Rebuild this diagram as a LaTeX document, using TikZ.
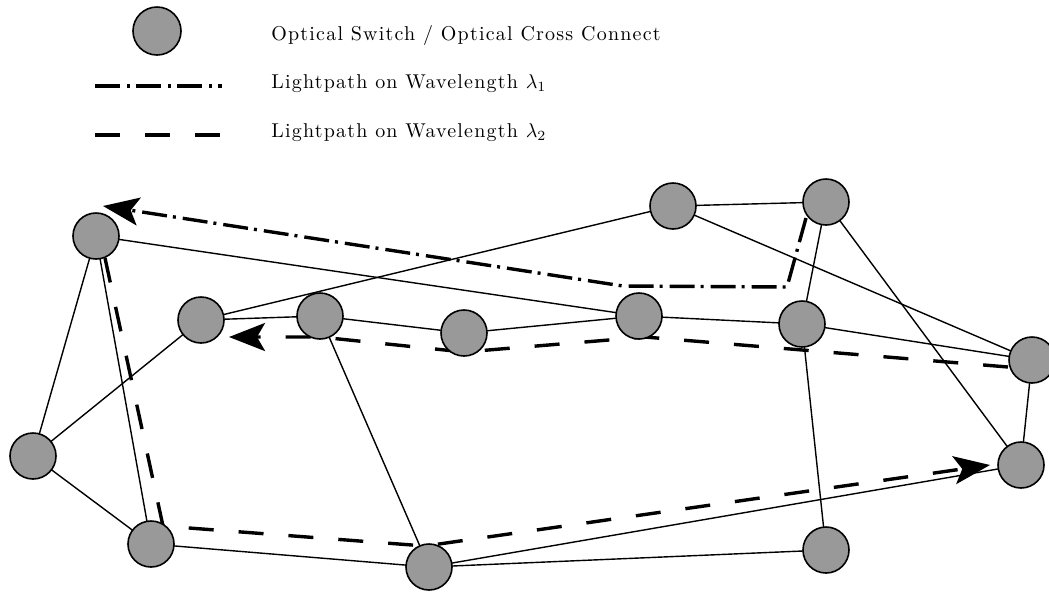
\documentclass[tikz,border=0pt]{standalone}
\usepackage{amsmath,amssymb}
\usepackage{fontspec}
\usepackage{tikz}
\usetikzlibrary{positioning,arrows.meta,backgrounds}
\newfontfamily\legendfont{Latin Modern Roman}[LetterSpace=6.0]
\tikzset{switch/.style={circle,draw,line width=.8pt,fill=black!40,minimum size=23pt,inner sep=0pt},
  link/.style={line width=.7pt},
  lambdaone/.style={line width=1.7pt,dash pattern=on 12.5pt off 3.5pt on 1.5pt off 3pt},
  lambdatwo/.style={line width=1.7pt,dash pattern=on 12.5pt off 12.5pt},
  tip/.style={-{Stealth[length=18pt,width=14pt,inset=4pt]}},
  legend/.style={anchor=base west,inner sep=0pt,font=\legendfont}}

\begin{document}
\begin{tikzpicture}[x=.5pt,y=-.5pt]
\useasboundingbox (0,0) rectangle (1049,591);
% legend
\node[switch,minimum width=24pt,minimum height=24pt] (key) at (157,31) {};
\node[legend] (keytext) at (271,40) {Optical Switch / Optical Cross Connect};
\coordinate (oneL) at (95,86); \coordinate (oneR) at (222,86);
\draw[lambdaone] (oneL) -- (oneR);
\node[legend] (onetext) at (271,88) {Lightpath on Wavelength $\lambda_1$};
\coordinate (twoL) at (95,135); \coordinate (twoR) at (222,135);
\draw[lambdatwo] (twoL) -- (twoR);
\node[legend] (twotext) at (271,137.5) {Lightpath on Wavelength $\lambda_2$};
% switches
\node[switch] (a) at (96,236) {}; \node[switch] (b) at (673,206) {};
\node[switch] (c) at (826,202) {}; \node[switch] (d) at (201,320) {};
\node[switch] (e) at (320,316) {}; \node[switch] (f) at (464,333) {};
\node[switch] (g) at (639,316) {}; \node[switch] (h) at (802,324) {};
\node[switch] (i) at (1032,360) {}; \node[switch] (j) at (33,456) {};
\node[switch] (k) at (1021,465) {}; \node[switch] (l) at (151,544) {};
\node[switch] (m) at (429,567) {}; \node[switch] (n) at (826,550) {};
% bends of the lightpaths
\coordinate (c1) at (806,218); \coordinate (c2) at (787,287);
\coordinate (c3) at (623,286); \coordinate (c4) at (103,206);
\coordinate (i1) at (1008,367); \coordinate (i2) at (645,337);
\coordinate (i3) at (464,352); \coordinate (i4) at (320,337);
\coordinate (i5) at (229,337);
\coordinate (a1) at (105,258); \coordinate (a2) at (163,526);
\coordinate (a3) at (425,546); \coordinate (a4) at (990,465);
\begin{scope}[on background layer]
\foreach \u/\v in {a/g,a/j,a/l,d/b,d/j,d/e,e/f,f/g,g/h,b/c,b/i,c/k,c/h,h/i,i/k,h/n,k/m,e/m,l/m,m/n,j/l}
  \draw[link] (\u.center) -- (\v.center);
\draw[lambdaone,tip] (c1) -- (c2) -- (c3) -- (c4);
\draw[lambdatwo,tip] (i1) -- (i2) -- (i3) -- (i4) -- (i5);
\draw[lambdatwo,tip] (a1) -- (a2) -- (a3) -- (a4);
\end{scope}
\end{tikzpicture}
\end{document}
